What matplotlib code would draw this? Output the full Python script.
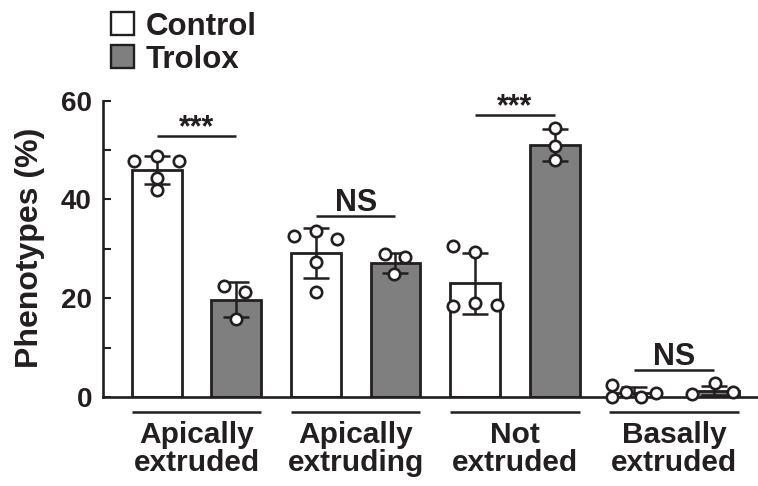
import numpy as np
import matplotlib
matplotlib.use("Agg")
import matplotlib.pyplot as plt
from matplotlib.patches import Rectangle
import matplotlib.transforms as mtransforms

plt.rcParams['font.family'] = ['Liberation Sans', 'DejaVu Sans']
plt.rcParams['font.weight'] = 'bold'

# ---------------- data ----------------
categories = ["Apically\nextruded", "Apically\nextruding", "Not\nextruded", "Basally\nextruded"]
series_names = ["Control", "Trolox"]

control_mean = [46.0, 29.2, 23.0, 0.9]
control_err = [2.8, 5.1, 6.1, 1.2]
trolox_mean = [19.7, 27.2, 51.0, 1.3]
trolox_err = [3.5, 2.0, 3.2, 0.9]

control_points = [
    [47.8, 48.9, 47.8, 44.4, 42.0],
    [32.6, 33.7, 32.0, 27.4, 21.3],
    [30.6, 29.3, 18.4, 19.1, 18.7],
    [2.4, 0.0, 1.0, 0.1, 0.8],
]
trolox_points = [
    [22.4, 21.2, 15.7],
    [28.9, 28.4, 25.0],
    [54.5, 50.9, 48.0],
    [0.55, 2.8, 1.0],
]
sig_labels = ["***", "NS", "***", "NS"]
y_ticks = [0, 20, 40, 60]
y_label = "Phenotypes (%)"

# ---------------- layout (positions / styles) ----------------
control_jitter = [
    [-0.28, 0.0, 0.28, 0.0, 0.0],
    [-0.27, 0.0, 0.27, 0.0, 0.0],
    [-0.28, 0.0, -0.28, 0.0, 0.27],
    [-0.28, -0.28, -0.10, 0.09, 0.27],
]
trolox_jitter = [
    [-0.15, 0.11, -0.01],
    [-0.13, 0.12, -0.02],
    [0.0, 0.0, 0.0],
    [-0.28, 0.01, 0.24],
]
sig_line_y = [52.8, 36.6, 57.2, 5.4]

INK = '#231f20'
GRAY = '#7f7f7f'
W, H = 758, 486

fig = plt.figure(figsize=(W / 100, H / 100), dpi=100)
ax = fig.add_axes([103 / W, 89 / H, 655 / W, 296.3 / H])

n = len(categories)
x_ctrl = np.arange(n) * 2.0
x_trol = x_ctrl + 1.0
bw = 0.628

ax.bar(x_ctrl, control_mean, width=bw, color='white', edgecolor=INK, linewidth=2.0, zorder=2)
ax.bar(x_trol, trolox_mean, width=bw, color=GRAY, edgecolor=INK, linewidth=2.0, zorder=2)

ekw = dict(fmt='none', ecolor=INK, elinewidth=1.8, capsize=9.5, capthick=1.8, zorder=3)
ax.errorbar(x_ctrl, control_mean, yerr=control_err, **ekw)
ax.errorbar(x_trol, trolox_mean, yerr=trolox_err, **ekw)

mkw = dict(linestyle='none', marker='o', markersize=8.2, markerfacecolor='white',
           markeredgecolor=INK, markeredgewidth=1.9, zorder=5, clip_on=False)
for i in range(n):
    ax.plot(x_ctrl[i] + np.array(control_jitter[i]), control_points[i], **mkw)
    ax.plot(x_trol[i] + np.array(trolox_jitter[i]), trolox_points[i], **mkw)

# significance
for i in range(n):
    ax.plot([x_ctrl[i], x_trol[i]], [sig_line_y[i]] * 2, color=INK, lw=1.8,
            solid_capstyle='butt', zorder=4)
    off = -0.3 if sig_labels[i].startswith('*') else 4.0
    ax.annotate(sig_labels[i], xy=((x_ctrl[i] + x_trol[i]) / 2, sig_line_y[i]),
                xytext=(0, off), textcoords='offset points', ha='center', va='baseline',
                fontsize=22, fontweight='bold', color=INK)

# axes styling
ax.set_xlim(-0.6746, 7.554)
ax.set_ylim(0, 60)
ax.set_yticks(y_ticks)
ax.set_yticks([10, 30, 50], minor=True)
ax.set_xticks([])
for s in ['top', 'right']:
    ax.spines[s].set_visible(False)
for s in ['left', 'bottom']:
    ax.spines[s].set_linewidth(1.9)
    ax.spines[s].set_color(INK)
ax.tick_params(axis='y', which='both', direction='in', length=5.5, width=1.5,
               color=INK, labelsize=20, pad=8, labelcolor=INK)
for lab in ax.get_yticklabels():
    lab.set_fontweight('bold')

fig.text(30 / W, 1 - 248 / H, y_label, rotation=90, ha='center', va='center',
         fontsize=23, fontweight='bold', color=INK)

# group underlines and category labels
trans = mtransforms.blended_transform_factory(ax.transData, ax.transAxes)
for i in range(n):
    ax.plot([x_ctrl[i] - bw / 2, x_trol[i] + bw / 2], [-0.0506, -0.0506], transform=trans,
            color=INK, lw=1.8, clip_on=False, solid_capstyle='butt')
    ax.text((x_ctrl[i] + x_trol[i]) / 2, -0.082, categories[i], transform=trans,
            ha='center', va='top', fontsize=21.5, fontweight='bold', color=INK,
            linespacing=0.98)

# legend (manual)
fills = ['white', GRAY]
ys = [23.5, 57.0]
for name, fc, yc in zip(series_names, fills, ys):
    fig.add_artist(Rectangle((111 / W, 1 - (yc + 11.5) / H), 23 / W, 23 / H,
                             transform=fig.transFigure, facecolor=fc, edgecolor=INK,
                             linewidth=1.7))
    fig.text(146 / W, 1 - yc / H, name, ha='left', va='center_baseline',
             fontsize=22.5, fontweight='bold', color=INK)

fig.savefig('out.png', dpi=100)
